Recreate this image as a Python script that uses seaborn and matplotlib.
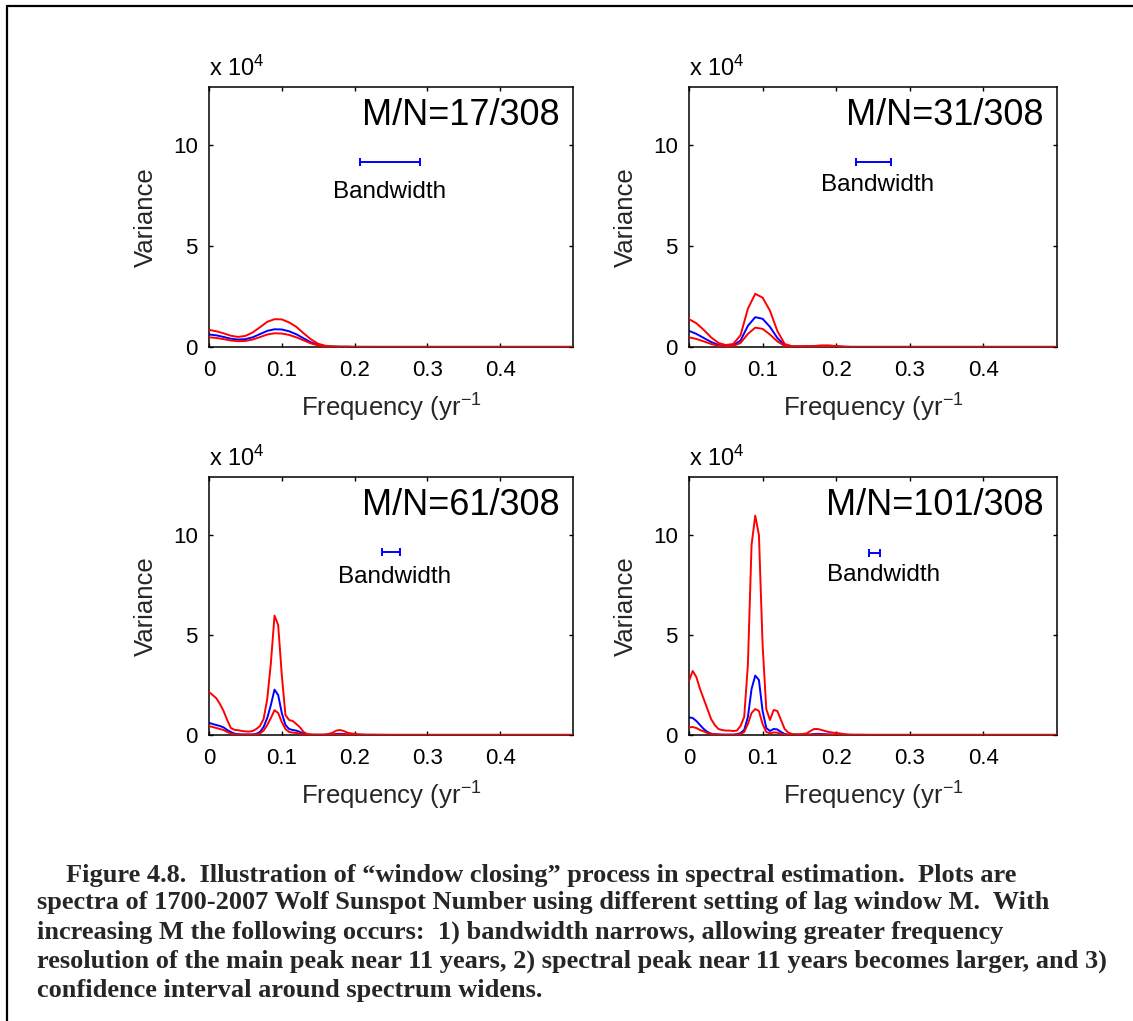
import matplotlib
matplotlib.use("Agg")
import matplotlib.pyplot as plt
import seaborn as sns
from matplotlib.lines import Line2D

# frequency grids (yr^-1)
freq_coarse = [0.00, 0.01, 0.02, 0.03, 0.04, 0.05, 0.06, 0.07, 0.08, 0.09, 0.10, 0.11,
               0.12, 0.13, 0.14, 0.15, 0.16, 0.17, 0.18, 0.19, 0.20, 0.21, 0.22,
               0.25, 0.30, 0.35, 0.40, 0.45, 0.50]
freq_fine = [0.000, 0.005, 0.010, 0.015, 0.020, 0.025, 0.030, 0.035, 0.040, 0.045,
             0.050, 0.055, 0.060, 0.065, 0.070, 0.075, 0.080, 0.085, 0.090, 0.095,
             0.100, 0.105, 0.110, 0.115, 0.120, 0.125, 0.130, 0.135, 0.140, 0.145,
             0.150, 0.155, 0.160, 0.165, 0.170, 0.175, 0.180, 0.185, 0.190, 0.195,
             0.200, 0.205, 0.210, 0.215, 0.220,
             0.25, 0.30, 0.35, 0.40, 0.45, 0.50]

# spectra in units of 1e4
hi17 = [0.85, 0.78, 0.68, 0.56, 0.50, 0.55, 0.72, 0.98, 1.25, 1.38, 1.37, 1.22,
        1.00, 0.68, 0.38, 0.16, 0.06, 0.03, 0.02, 0.02, 0.01, 0.01, 0.01,
        0.01, 0.01, 0.01, 0.01, 0.01, 0.01]
est17 = [0.62, 0.58, 0.50, 0.41, 0.37, 0.39, 0.48, 0.64, 0.80, 0.88, 0.87, 0.78,
         0.63, 0.43, 0.23, 0.10, 0.04, 0.02, 0.01, 0.01, 0.005, 0.005, 0.005,
         0.004, 0.004, 0.004, 0.004, 0.004, 0.004]
lo17 = [0.48, 0.45, 0.39, 0.32, 0.29, 0.30, 0.37, 0.49, 0.62, 0.68, 0.67, 0.60,
        0.48, 0.33, 0.18, 0.08, 0.03, 0.01, 0.005, 0.005, 0.003, 0.002, 0.002,
        0.002, 0.002, 0.002, 0.002, 0.002, 0.002]

hi31 = [1.38, 1.18, 0.85, 0.48, 0.20, 0.10, 0.15, 0.58, 1.90, 2.64, 2.45, 1.80,
        0.80, 0.15, 0.04, 0.04, 0.05, 0.05, 0.08, 0.08, 0.05, 0.02, 0.01,
        0.01, 0.01, 0.01, 0.01, 0.01, 0.01]
est31 = [0.80, 0.65, 0.45, 0.25, 0.10, 0.04, 0.08, 0.32, 1.05, 1.48, 1.40, 1.00,
         0.45, 0.08, 0.02, 0.02, 0.02, 0.03, 0.04, 0.04, 0.03, 0.01, 0.005,
         0.004, 0.004, 0.004, 0.004, 0.004, 0.004]
lo31 = [0.48, 0.40, 0.28, 0.15, 0.06, 0.02, 0.05, 0.20, 0.65, 0.96, 0.90, 0.62,
        0.28, 0.05, 0.01, 0.01, 0.01, 0.01, 0.02, 0.02, 0.01, 0.005, 0.002,
        0.002, 0.002, 0.002, 0.002, 0.002, 0.002]

hi61 = [2.15, 2.00, 1.84, 1.55, 1.20, 0.75, 0.35, 0.26, 0.24, 0.20,
        0.18, 0.17, 0.20, 0.30, 0.45, 0.80, 1.80, 3.60, 5.97, 5.50,
        3.00, 1.00, 0.75, 0.70, 0.55, 0.38, 0.15, 0.05, 0.03, 0.02,
        0.02, 0.02, 0.03, 0.06, 0.12, 0.22, 0.25, 0.20, 0.12, 0.08,
        0.06, 0.04, 0.03, 0.02, 0.02,
        0.01, 0.01, 0.01, 0.01, 0.01, 0.01]
est61 = [0.61, 0.55, 0.50, 0.45, 0.38, 0.25, 0.15, 0.07, 0.04, 0.03,
         0.03, 0.03, 0.03, 0.06, 0.15, 0.40, 0.85, 1.50, 2.27, 2.00,
         1.10, 0.50, 0.30, 0.25, 0.22, 0.15, 0.06, 0.02, 0.01, 0.01,
         0.01, 0.01, 0.01, 0.02, 0.03, 0.05, 0.06, 0.05, 0.03, 0.02,
         0.015, 0.01, 0.01, 0.005, 0.005,
         0.004, 0.004, 0.004, 0.004, 0.004, 0.004]
lo61 = [0.45, 0.40, 0.35, 0.30, 0.25, 0.15, 0.08, 0.03, 0.02, 0.015,
        0.015, 0.015, 0.015, 0.03, 0.08, 0.22, 0.50, 0.85, 1.24, 1.10,
        0.65, 0.30, 0.15, 0.12, 0.10, 0.07, 0.02, 0.01, 0.005, 0.005,
        0.005, 0.005, 0.005, 0.005, 0.01, 0.02, 0.03, 0.02, 0.01, 0.005,
        0.005, 0.003, 0.003, 0.002, 0.002,
        0.002, 0.002, 0.002, 0.002, 0.002, 0.002]

hi101 = [2.70, 3.20, 2.90, 2.30, 1.80, 1.30, 0.80, 0.50, 0.30, 0.25,
         0.22, 0.22, 0.20, 0.22, 0.45, 0.90, 3.50, 9.50, 10.97, 10.00,
         4.50, 1.30, 0.75, 1.25, 1.20, 0.75, 0.30, 0.12, 0.05, 0.04,
         0.04, 0.05, 0.08, 0.20, 0.30, 0.30, 0.25, 0.20, 0.15, 0.12,
         0.10, 0.08, 0.05, 0.03, 0.02,
         0.01, 0.01, 0.01, 0.01, 0.01, 0.01]
est101 = [0.88, 0.85, 0.70, 0.50, 0.30, 0.15, 0.07, 0.04, 0.03, 0.02,
          0.02, 0.02, 0.02, 0.04, 0.10, 0.25, 0.90, 2.30, 2.97, 2.75,
          1.20, 0.35, 0.20, 0.30, 0.28, 0.15, 0.05, 0.02, 0.01, 0.01,
          0.01, 0.01, 0.02, 0.03, 0.05, 0.06, 0.05, 0.04, 0.03, 0.02,
          0.02, 0.01, 0.01, 0.005, 0.005,
          0.004, 0.004, 0.004, 0.004, 0.004, 0.004]
lo101 = [0.38, 0.40, 0.35, 0.25, 0.18, 0.10, 0.05, 0.03, 0.02, 0.01,
         0.01, 0.01, 0.01, 0.02, 0.05, 0.15, 0.55, 1.10, 1.30, 1.20,
         0.55, 0.15, 0.08, 0.13, 0.12, 0.05, 0.02, 0.01, 0.005, 0.005,
         0.005, 0.005, 0.005, 0.01, 0.02, 0.03, 0.02, 0.01, 0.005, 0.005,
         0.003, 0.003, 0.002, 0.002, 0.002,
         0.002, 0.002, 0.002, 0.002, 0.002, 0.002]

titles = ["M/N=17/308", "M/N=31/308", "M/N=61/308", "M/N=101/308"]
# bandwidth bar: centre, half width, height; label position
bw_center = [0.249, 0.2505, 0.2495, 0.252]
bw_half = [0.041, 0.0235, 0.0125, 0.008]
bw_y = [9.2, 9.2, 9.15, 9.1]
bw_label_x = [0.248, 0.256, 0.255, 0.264]
bw_label_y = [7.7, 8.05, 7.9, 8.0]

caption = [
    "Figure 4.8.  Illustration of \u201cwindow closing\u201d process in spectral estimation.  Plots are",
    "spectra of 1700-2007 Wolf Sunspot Number using different setting of lag window M.  With",
    "increasing M the following occurs:  1) bandwidth narrows, allowing greater frequency",
    "resolution of the main peak near 11 years, 2) spectral peak near 11 years becomes larger, and 3)",
    "confidence interval around spectrum widens.",
]

panels = [
    (freq_coarse, est17, lo17, hi17),
    (freq_coarse, est31, lo31, hi31),
    (freq_fine, est61, lo61, hi61),
    (freq_fine, est101, lo101, hi101),
]

sns.set_style("ticks")
plt.rcParams['font.family'] = ['Liberation Sans', 'DejaVu Sans']
plt.rcParams['mathtext.fontset'] = 'custom'
plt.rcParams['mathtext.rm'] = 'Liberation Sans'
plt.rcParams['mathtext.it'] = 'Liberation Sans'

W, H = 1133, 1021
fig = plt.figure(figsize=(W / 100, H / 100), dpi=100)
fig.patch.set_facecolor('white')

# axes boxes in pixels: left, top, right, bottom
boxes = [(209, 87, 573, 347), (689, 87, 1057, 347),
         (209, 477, 573, 735), (689, 477, 1057, 735)]

for i, (freq, est, lo, hi) in enumerate(panels):
    l, t, r, b = boxes[i]
    ax = fig.add_axes([l / W, 1 - b / H, (r - l) / W, (b - t) / H])
    ax.set_facecolor('white')
    sns.lineplot(x=freq, y=est, ax=ax, color='#0000ff', lw=1.4, zorder=2)
    sns.lineplot(x=freq, y=lo, ax=ax, color='#ff0000', lw=1.4, zorder=3)
    sns.lineplot(x=freq, y=hi, ax=ax, color='#ff0000', lw=1.4, zorder=3)

    ax.errorbar([bw_center[i]], [bw_y[i]], xerr=[bw_half[i]], color='#0000ff',
                lw=1.4, capsize=3, capthick=1.4, fmt='none')
    ax.text(bw_label_x[i], bw_label_y[i], "Bandwidth", ha='center', va='center',
            fontsize=17.5, color='black')
    ax.text(0.964, 0.89, titles[i], transform=ax.transAxes, ha='right',
            va='center', fontsize=26, color='black')
    ax.text(0.0, 1.025, r"x 10$^4$", transform=ax.transAxes, ha='left',
            va='bottom', fontsize=17, color='black')

    ax.set_xlim(0, 0.5)
    ax.set_ylim(0, 12.9)
    ax.set_xticks([0, 0.1, 0.2, 0.3, 0.4])
    ax.set_xticklabels(["0", "0.1", "0.2", "0.3", "0.4"])
    ax.set_yticks([0, 5, 10])
    ax.set_yticklabels(["0", "5", "10"])
    ax.tick_params(direction='in', length=3, width=1, top=True, right=True,
                   labelsize=16, colors='black')
    ax.tick_params(axis='x', pad=9)
    ax.tick_params(axis='y', pad=8)
    for s in ax.spines.values():
        s.set_visible(True)
        s.set_color('black')
        s.set_linewidth(1.1)
    ax.set_xlabel("Frequency (yr$^{-1}$", fontsize=18.5, labelpad=8)
    ax.set_ylabel("Variance", fontsize=18.5, labelpad=11)

line_y = [875, 903, 932, 961, 990]
for j, txt in enumerate(caption):
    x0 = 66 if j == 0 else 37
    fig.text(x0 / W, 1 - line_y[j] / H, txt, ha='left', va='center',
             fontsize=19, fontweight='bold', family='Liberation Serif')

# page frame
fig.add_artist(Line2D([7 / W, 7 / W], [1 - 6 / H, 0], color='black', lw=1.6))
fig.add_artist(Line2D([7 / W, 1], [1 - 6 / H, 1 - 6 / H], color='black', lw=1.6))

fig.savefig("out.png", dpi=100, facecolor='white')
